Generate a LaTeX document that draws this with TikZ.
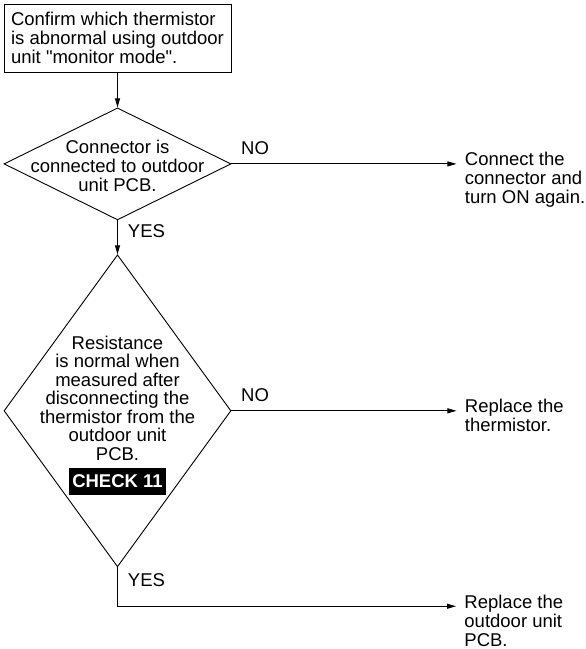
\documentclass[tikz,border=0pt]{standalone}
\usepackage{fontspec}
\setmainfont{Liberation Sans}
\usetikzlibrary{positioning,shapes.geometric,arrows.meta}
\newcommand{\chartfont}{\fontsize{18.5pt}{19pt}\selectfont}

\begin{document}
\begin{tikzpicture}[node distance=35pt, auto, line width=0.9pt, >={Triangle[length=9pt,width=5pt]},
        every node/.style={font=\chartfont, inner sep=0pt},
        stepbox/.style={draw, rectangle, align=left, minimum width=227pt, minimum height=68pt},
        decision/.style={draw, diamond, minimum width=227pt},
        result/.style={anchor=north west, align=left, inner xsep=8pt, yshift=12pt}]
        \useasboundingbox (0,0) rectangle (586pt,-649pt);

        \node (conf) [stepbox] at (117.5pt,-38pt) {Confirm which thermistor\\is abnormal using outdoor\\unit \textquotedbl monitor mode\textquotedbl.};
        \node (d1) [decision, minimum height=112pt, below=of conf] {};
        \node (d1txt) at (d1) [align=center, yshift=-2pt] {Connector is\\connected to outdoor\\unit PCB.};
        \node (d2) [decision, minimum height=312pt, below=34pt of d1] {};
        \node (d2txt) at (d2) [align=center, yshift=12.5pt, font=\fontsize{18.5pt}{18.5pt}\selectfont] {Resistance\\is normal when\\measured after\\disconnecting the\\thermistor from the\\outdoor unit\\PCB.};
        \node (chk) [below=6pt of d2txt, fill=black, text=white, font=\chartfont\bfseries, inner xsep=3pt, minimum height=27pt] {CHECK 11};
        \coordinate [below=39pt of d2.south] (c3);

        \node (fix) [right=225pt of d1.east, result] {Connect the\\connector and\\turn ON again.};
        \node (repl) [right=225pt of d2.east, result] {Replace the\\thermistor.};
        \node (pcb) [right=338.5pt of c3, result] {Replace the\\outdoor unit\\PCB.};

        \draw[->] (conf) -- (d1);
        \draw[->] (d1.south) -- node[right=10pt, pos=0.32] {YES} (d2.north);
        \draw[->] (d1.east) -- node[above=9pt, pos=0.105] {NO} (d1.east -| fix.west);
        \draw[->] (d2.east) -- node[above=9pt, pos=0.105] {NO} (d2.east -| repl.west);
        \draw[->] (d2.south) -- node[right=10pt, pos=0.34] {YES} (c3) -- (c3 -| pcb.west);
    \end{tikzpicture}
\end{document}
